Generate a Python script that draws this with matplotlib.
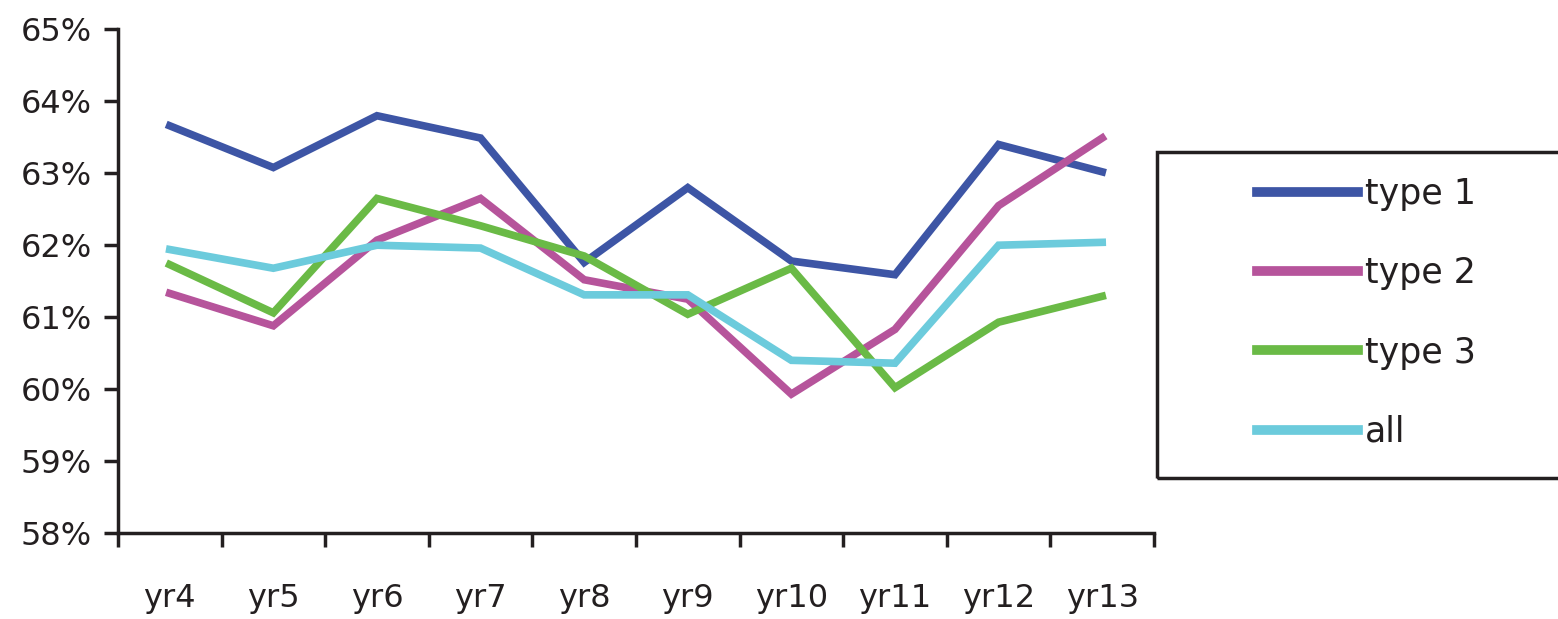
import matplotlib
matplotlib.use("Agg")
import matplotlib.pyplot as plt
from matplotlib.patches import Rectangle
from matplotlib.ticker import FuncFormatter

years = ["yr4", "yr5", "yr6", "yr7", "yr8", "yr9", "yr10", "yr11", "yr12", "yr13"]
type1 = [63.66, 63.08, 63.80, 63.49, 61.76, 62.80, 61.78, 61.59, 63.40, 63.02]
type2 = [61.33, 60.88, 62.07, 62.65, 61.52, 61.25, 59.93, 60.83, 62.55, 63.49]
type3 = [61.73, 61.06, 62.65, 62.27, 61.85, 61.04, 61.68, 60.02, 60.93, 61.29]
all_ = [61.94, 61.68, 62.00, 61.96, 61.31, 61.31, 60.40, 60.36, 62.00, 62.04]
names = ["type 1", "type 2", "type 3", "all"]
colors = ["#3d55a5", "#b6549b", "#6aba46", "#6ccbdc"]

plt.rcParams["font.family"] = ["DejaVu Sans"]
txt = "#231f20"

fig = plt.figure(figsize=(15.58, 6.19), dpi=100)
ax = fig.add_axes([0.0757, 0.139, 0.665, 0.8135])

xs = range(len(years))
for ys, name, c in zip([type1, type2, type3, all_], names, colors):
    ax.plot(xs, ys, color=c, lw=5.5, label=name, solid_joinstyle="miter")

ax.set_xlim(-0.5, len(years) - 0.5)
ax.set_ylim(58, 65)
ax.set_yticks(range(58, 66))
ax.yaxis.set_major_formatter(FuncFormatter(lambda v, p: f"{int(v)}%"))

ax.set_xticks([i - 0.5 for i in range(len(years) + 1)])
ax.set_xticklabels([])
ax.set_xticks(list(xs), minor=True)
ax.set_xticklabels(years, minor=True)

for s in ["top", "right"]:
    ax.spines[s].set_visible(False)
for s in ["left", "bottom"]:
    ax.spines[s].set_linewidth(2.5)
    ax.spines[s].set_color(txt)

ax.tick_params(axis="x", which="major", direction="out", length=10, width=2.5, color=txt)
ax.tick_params(axis="x", which="minor", length=0, pad=36, labelsize=23, labelcolor=txt)
ax.tick_params(axis="y", direction="out", length=10, width=2.5, color=txt,
               pad=9, labelsize=23, labelcolor=txt)

# legend box, cut off at the right edge
fig.patches.append(Rectangle((1157 / 1558, (619 - 478) / 619), 0.3, 326 / 619,
                             transform=fig.transFigure, fill=False,
                             edgecolor=txt, lw=2.5))
leg = fig.legend(loc="upper left", bbox_to_anchor=(1240 / 1558, (619 - 160) / 619),
                 frameon=False, fontsize=25, handlelength=2.9, handletextpad=0.2,
                 labelspacing=1.3, borderpad=0)
for t in leg.get_texts():
    t.set_color(txt)
for h in leg.legend_handles:
    h.set_linewidth(7)

fig.savefig("out.png", dpi=100)
